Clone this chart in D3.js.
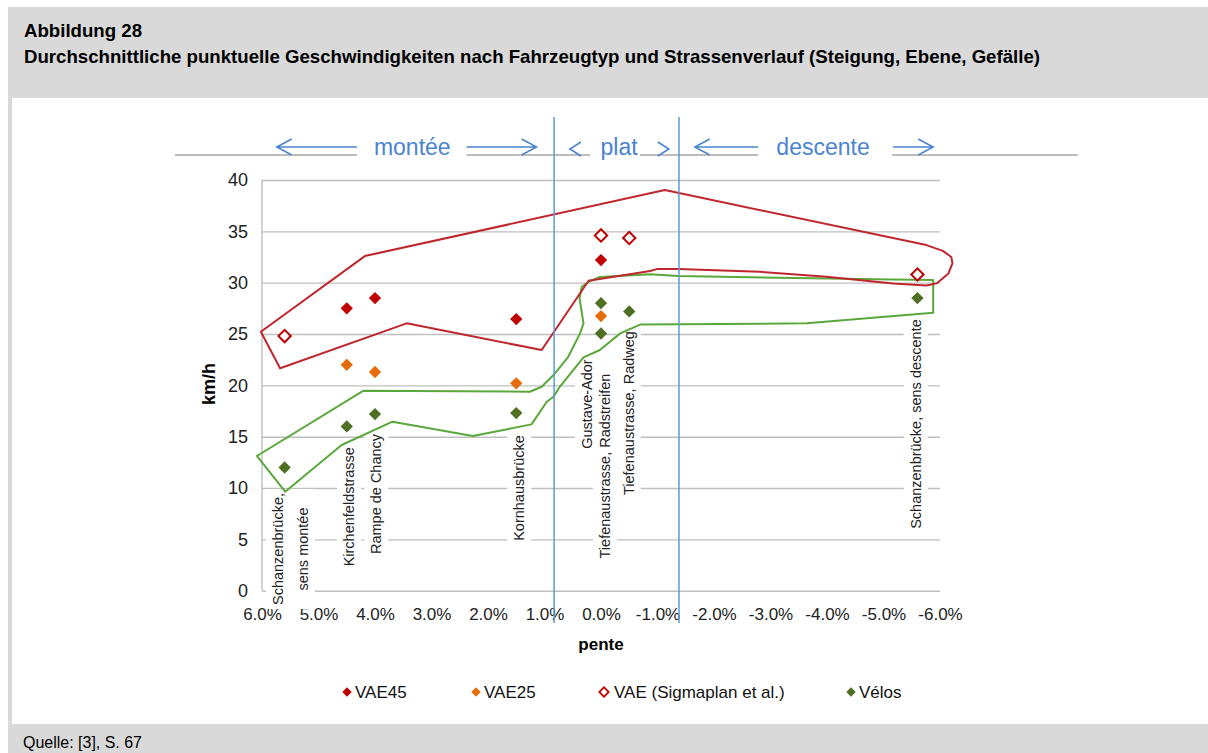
<!DOCTYPE html>
<html>
<head>
<meta charset="utf-8">
<script src="https://cdn.jsdelivr.net/npm/d3@7"></script>
<style>
  body { margin: 0; background: #fff; }
</style>
</head>
<body>
<script>
// --- data ---
var legendNames = ["VAE45", "VAE25", "VAE (Sigmaplan et al.)", "Vélos"];

var vae45Pente = [4.5, 4.0, 1.5, 0.0];
var vae45Speed = [27.5, 28.5, 26.45, 32.2];

var vae25Pente = [4.5, 4.0, 1.5, 0.0];
var vae25Speed = [22.0, 21.3, 20.2, 26.75];

var sigmaPente = [5.6, 0.0, -0.5, -5.6];
var sigmaSpeed = [24.8, 34.6, 34.35, 30.8];

var velosPente = [5.6, 4.5, 4.0, 1.5, 0.0, 0.0, -0.5, -5.6];
var velosSpeed = [12.0, 16.0, 17.2, 17.3, 28.0, 25.05, 27.2, 28.5];

var xTicks = [6, 5, 4, 3, 2, 1, 0, -1, -2, -3, -4, -5, -6];
var yTicks = [0, 5, 10, 15, 20, 25, 30, 35, 40];

// measuring sites (rotated labels): baseline pente, centre km/h
var siteNames = [["Schanzenbrücke,", "sens montée"], ["Kirchenfeldstrasse"], ["Rampe de Chancy"],
  ["Kornhausbrücke"], ["Gustave-Ador"], ["Tiefenaustrasse, Radstreifen"],
  ["Tiefenaustrasse, Radweg"], ["Schanzenbrücke, sens descente"]];
var sitePente = [5.63, 4.37, 3.89, 1.36, 0.16, -0.16, -0.58, -5.66];
var siteSpeed = [4.06, 8.18, 9.42, 10.0, 18.18, 12.14, 17.3, 16.23];

// hand drawn envelopes
var redHullPente = [6.02, 4.18, -1.13, -5.76, -6.05, -6.2, -6.22, -6.15, -5.94, -5.76, -5.17, -3.99, -2.81,
  -1.37, -0.99, -0.87, 0.22, 1.05, 3.44, 5.68];
var redHullSpeed = [25.22, 32.59, 39.02, 33.66, 33.1, 32.5, 31.88, 30.9, 29.93, 29.72, 29.93, 30.57, 31.06,
  31.32, 31.32, 31.13, 30.19, 23.44, 26.04, 21.66];

var greenHullPente = [6.09, 4.21, 1.26, 1.05, 0.84, 0.58, 0.37, 0.31, 0.38, 0.34, 0.22, 0.02, -0.87, -1.37,
  -5.17, -5.88, -5.88, -3.64, -1.37, -0.69, -0.34, 0.02, 0.31, 0.73, 0.84, 0.96, 1.23, 2.27, 3.69, 4.59, 5.59];
var greenHullSpeed = [13.12, 19.47, 19.38, 19.86, 21.0, 22.78, 25.06, 26.04, 28.47, 29.6, 30.09, 30.55, 30.81, 30.64,
  30.32, 30.25, 27.07, 26.04, 25.94, 25.92, 25.06, 23.44, 22.73, 19.86, 18.89, 18.4, 16.2, 15.06, 16.46, 14.19, 9.64];

// zones (montée / plat / descente)
var zoneDividers = [0.83, -1.38];
var zoneNames = ["montée", "plat", "descente"];
var zoneCenters = [3.34, -0.32, -3.93];
var arrowFrom = [4.32, 2.38, -2.78, -5.17];
var arrowTo = [5.74, 1.14, -1.66, -5.88];
var chevronTip = [0.55, -1.2];
var chevronDir = [-1, 1];
var headerLine = [7.54, -8.44];
var headerGaps = [[4.32, 2.38], [0.19, -0.69], [-2.78, -5.15]];

// --- drawing ---
var W = 1208, H = 753;
var fontSans = "'Liberation Sans', Arial, sans-serif";
var fontNarrow = "'Liberation Sans Narrow', 'Liberation Sans', Arial, sans-serif";
var blue = "#4a84cf";

var svg = d3.select("body").append("svg")
  .attr("width", W)
  .attr("height", H);

svg.append("rect").attr("x", 8).attr("y", 7).attr("width", W - 8).attr("height", H - 7).attr("fill", "#d9d9d9");
svg.append("rect").attr("x", 12).attr("y", 98).attr("width", W - 12).attr("height", 626).attr("fill", "#fff");

svg.append("text").attr("x", 24).attr("y", 37)
  .attr("font-family", fontNarrow).attr("font-weight", "bold").attr("font-size", 19)
  .attr("textLength", 118).attr("lengthAdjust", "spacingAndGlyphs")
  .text("Abbildung 28");
svg.append("text").attr("x", 24).attr("y", 63)
  .attr("font-family", fontNarrow).attr("font-weight", "bold").attr("font-size", 19)
  .attr("textLength", 1016).attr("lengthAdjust", "spacingAndGlyphs")
  .text("Durchschnittliche punktuelle Geschwindigkeiten nach Fahrzeugtyp und Strassenverlauf (Steigung, Ebene, Gefälle)");
svg.append("text").attr("x", 23).attr("y", 748)
  .attr("font-family", fontNarrow).attr("font-size", 16)
  .attr("textLength", 119).attr("lengthAdjust", "spacingAndGlyphs")
  .text("Quelle: [3], S. 67");

var x = d3.scaleLinear().domain([6, -6]).range([262, 940]);
var y = d3.scaleLinear().domain([0, 40]).range([590.7, 180]);

// y axis with gridlines
var yAxis = d3.axisLeft(y)
  .tickValues(yTicks)
  .tickSize(-(x(-6) - x(6)))
  .tickPadding(14);
var gy = svg.append("g")
  .attr("transform", "translate(" + x(6) + ",0)")
  .call(yAxis);
gy.select(".domain").remove();
gy.selectAll(".tick line").attr("stroke", "#bfbfbf").attr("stroke-width", 1.4);
gy.selectAll(".tick text").attr("font-family", fontSans).attr("font-size", 18).attr("fill", "#222");
svg.append("line")
  .attr("x1", x(6)).attr("x2", x(6))
  .attr("y1", y(0)).attr("y2", y(40))
  .attr("stroke", "#bfbfbf").attr("stroke-width", 1.4);

// x axis labels
var xAxis = d3.axisBottom(x)
  .tickValues(xTicks)
  .tickSize(0)
  .tickPadding(17)
  .tickFormat(function(d) { return d.toFixed(1) + "%"; });
var gx = svg.append("g")
  .attr("transform", "translate(0," + y(0) + ")")
  .call(xAxis);
gx.select(".domain").remove();
gx.selectAll(".tick text").attr("font-family", fontSans).attr("font-size", 17).attr("fill", "#222");

svg.append("text")
  .attr("x", x(0)).attr("y", 650)
  .attr("text-anchor", "middle")
  .attr("font-family", fontSans).attr("font-weight", "bold").attr("font-size", 17)
  .text("pente");

svg.append("text")
  .attr("transform", "translate(215," + 384 + ") rotate(-90)")
  .attr("text-anchor", "middle")
  .attr("font-family", fontSans).attr("font-weight", "bold").attr("font-size", 18)
  .text("km/h");

// site labels with white boxes
var siteG = svg.append("g")
  .attr("font-family", fontSans)
  .attr("font-size", 14.5)
  .attr("fill", "#222");
siteNames.forEach(function(lines, i) {
  var g = siteG.append("g")
    .attr("transform", "translate(" + x(sitePente[i]) + "," + y(siteSpeed[i]) + ") rotate(-90)");
  var bg = g.append("rect").attr("fill", "#fff");
  var t = g.append("text").attr("text-anchor", "middle");
  lines.forEach(function(s, j) {
    t.append("tspan").attr("x", 0).attr("dy", j ? 25 : 0).text(s);
  });
  var b = t.node().getBBox();
  bg.attr("x", b.x - 4).attr("y", b.y - 4).attr("width", b.width + 8).attr("height", b.height + 8);
});

// envelopes
var hullLine = d3.line()
  .x(function(d) { return x(d[0]); })
  .y(function(d) { return y(d[1]); })
  .curve(d3.curveLinearClosed);

svg.append("path")
  .datum(d3.zip(greenHullPente, greenHullSpeed))
  .attr("d", hullLine)
  .attr("style", "stroke:#5aa83c;fill:none;stroke-width:2px;stroke-linejoin:round;");
svg.append("path")
  .datum(d3.zip(redHullPente, redHullSpeed))
  .attr("d", hullLine)
  .attr("style", "stroke:#c0262d;fill:none;stroke-width:2px;stroke-linejoin:round;");

// markers
var diamond = d3.symbol().type(d3.symbolSquare).size(76);
function drawMarkers(px, py, fill, stroke) {
  svg.append("g").selectAll("path")
    .data(d3.zip(px, py))
    .enter().append("path")
    .attr("d", diamond)
    .attr("transform", function(d) { return "translate(" + x(d[0]) + "," + y(d[1]) + ") rotate(45)"; })
    .attr("fill", fill)
    .attr("stroke", stroke)
    .attr("stroke-width", stroke === "none" ? 0 : 2);
}
drawMarkers(velosPente, velosSpeed, "#4f6f22", "none");
drawMarkers(vae25Pente, vae25Speed, "#e46c0a", "none");
drawMarkers(vae45Pente, vae45Speed, "#c00000", "none");
drawMarkers(sigmaPente, sigmaSpeed, "#fff", "#c00000");

// header band: gray line, arrows, zone names
var headY = 155;
var segs = [];
var start = headerLine[0];
headerGaps.forEach(function(g) { segs.push([start, g[0]]); start = g[1]; });
segs.push([start, headerLine[1]]);
svg.append("g").selectAll("line")
  .data(segs)
  .enter().append("line")
  .attr("x1", function(d) { return x(d[0]); })
  .attr("x2", function(d) { return x(d[1]); })
  .attr("y1", headY).attr("y2", headY)
  .attr("stroke", "#a6a6a6").attr("stroke-width", 1.5);

svg.append("g").selectAll("text")
  .data(zoneNames)
  .enter().append("text")
  .attr("x", function(d, i) { return x(zoneCenters[i]); })
  .attr("y", headY)
  .attr("text-anchor", "middle")
  .attr("font-family", fontSans).attr("font-size", 23)
  .attr("fill", blue)
  .text(function(d) { return d; });

var arrowY = 147;
arrowFrom.forEach(function(f, i) {
  var x0 = x(f), x1 = x(arrowTo[i]);
  var dir = x1 > x0 ? 1 : -1;
  svg.append("path")
    .attr("d", "M" + x0 + "," + arrowY + "H" + x1 +
      "M" + (x1 - dir * 15) + "," + (arrowY - 8) + "L" + x1 + "," + arrowY + "L" + (x1 - dir * 15) + "," + (arrowY + 8))
    .attr("fill", "none").attr("stroke", blue).attr("stroke-width", 1.5);
});
chevronTip.forEach(function(t, i) {
  var xt = x(t), dir = chevronDir[i];
  svg.append("path")
    .attr("d", "M" + (xt - dir * 11) + "," + (arrowY - 5) + "L" + xt + "," + (arrowY + 2) + "L" + (xt - dir * 11) + "," + (arrowY + 9))
    .attr("fill", "none").attr("stroke", blue).attr("stroke-width", 1.6);
});

// zone dividers
svg.append("g").selectAll("line")
  .data(zoneDividers)
  .enter().append("line")
  .attr("x1", function(d) { return x(d); })
  .attr("x2", function(d) { return x(d); })
  .attr("y1", 117).attr("y2", 623)
  .attr("stroke", "#5b9bd5").attr("stroke-width", 1.5);

// legend
var legendX = [347, 476, 604, 851];
var legendFill = ["#c00000", "#e46c0a", "#fff", "#4f6f22"];
var legendStroke = ["none", "none", "#c00000", "none"];
var legendSym = d3.symbol().type(d3.symbolSquare).size(44);
var lg = svg.append("g").selectAll("g")
  .data(legendNames)
  .enter().append("g")
  .attr("transform", function(d, i) { return "translate(" + legendX[i] + ",692)"; });
lg.append("path")
  .attr("d", legendSym)
  .attr("transform", "rotate(45)")
  .attr("fill", function(d, i) { return legendFill[i]; })
  .attr("stroke", function(d, i) { return legendStroke[i]; })
  .attr("stroke-width", 1.8);
lg.append("text")
  .attr("x", function(d, i) { return i === 2 ? 10 : 8; })
  .attr("y", 6)
  .attr("font-family", fontSans).attr("font-size", 17)
  .attr("fill", "#111")
  .text(function(d) { return d; });
</script>
</body>
</html>
